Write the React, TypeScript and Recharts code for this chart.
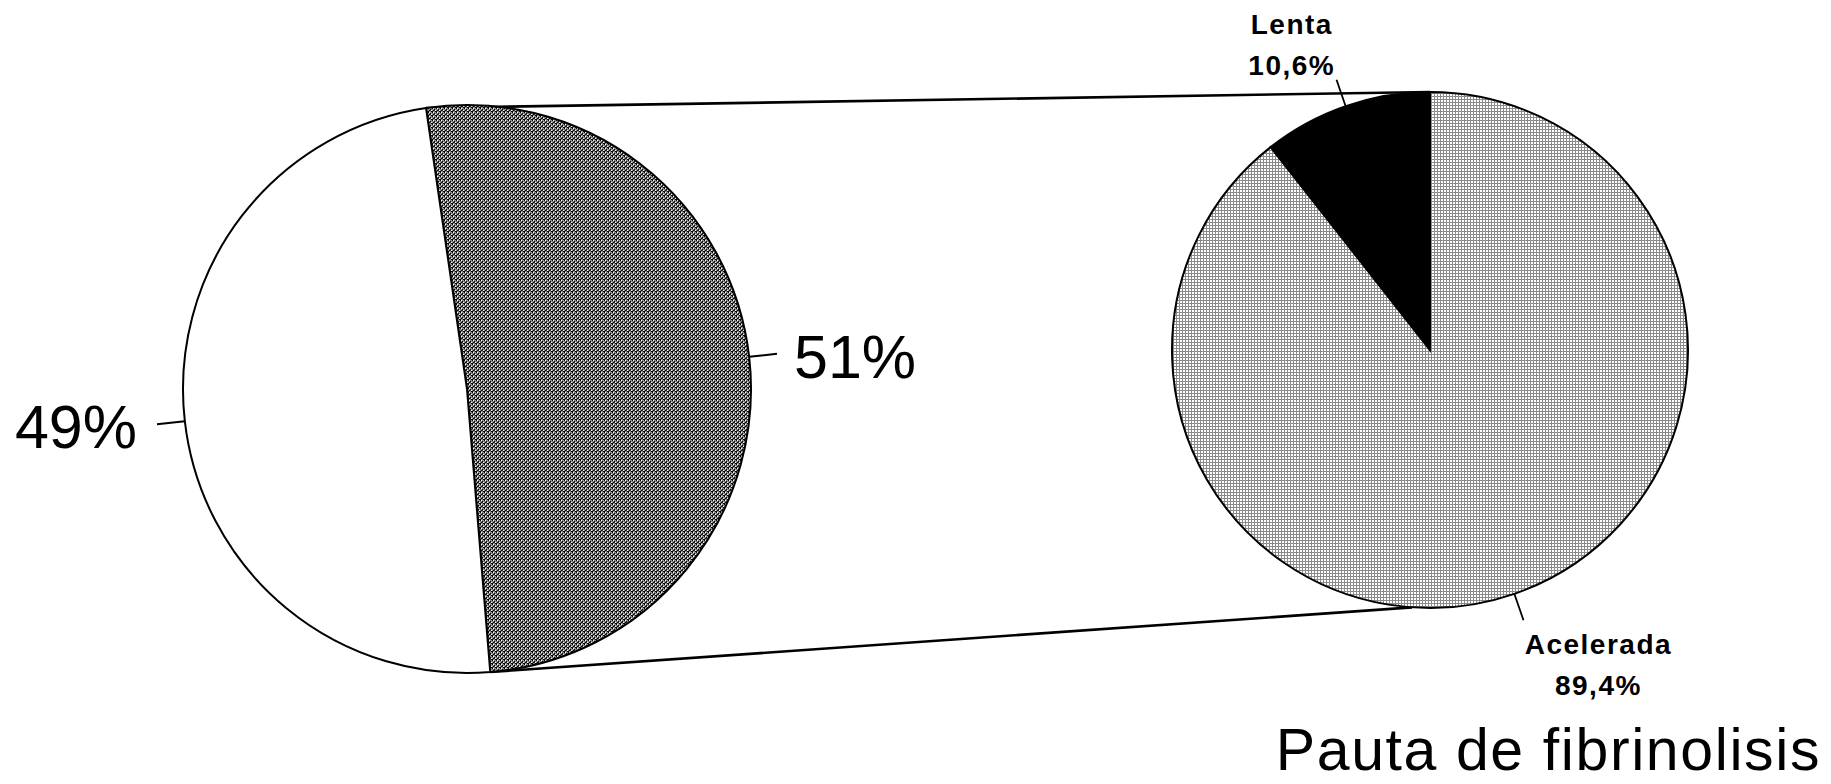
import React from 'react';
import { PieChart, Pie, Cell, Customized } from 'recharts';

// Overall split (left pie) and fibrinolysis pattern breakdown (right pie)
const groupNames = ['Grupo A', 'Grupo B'];
const groupShares = [51, 49];
const patternNames = ['Lenta', 'Acelerada'];
const patternShares = [10.6, 89.4];
const titleText = 'Pauta de fibrinolisis';

const groupData = groupNames.map((name, i) => ({ name, value: groupShares[i] }));
const patternData = patternNames.map((name, i) => ({ name, value: patternShares[i] }));

const W = 1831;
const H = 784;
const FONT = '"Liberation Sans", Arial, Helvetica, sans-serif';
const RAD = Math.PI / 180;

const LEFT = { cx: 467, cy: 389, r: 284, start: 98.3 };
const RIGHT = { cx: 1430, cy: 350, r: 258, start: 90, bottomLink: 266 };

const groupFills = ['url(#darkTexture)', '#ffffff'];
const patternFills = ['#000000', 'url(#lightGrid)'];

const polar = (cx: number, cy: number, r: number, a: number) => ({
  x: cx + r * Math.cos(a * RAD),
  y: cy - r * Math.sin(a * RAD),
});

const fmtPct = (v: number) => String(v).replace('.', ',') + '%';

const SMALL_SIZE = 28;
const SMALL_SPACING = 1.5;

let measureCtx: CanvasRenderingContext2D | null = null;
const measure = (s: string) => {
  if (!measureCtx) {
    const c = document.createElement('canvas');
    measureCtx = c.getContext('2d');
  }
  if (!measureCtx) return s.length * SMALL_SIZE * 0.6;
  measureCtx.font = `bold ${SMALL_SIZE}px ${FONT}`;
  return measureCtx.measureText(s).width + SMALL_SPACING * (s.length - 1);
};

const renderGroupLabel = (p: any) => {
  const { cx, cy, outerRadius, midAngle, value } = p;
  const a = polar(cx, cy, outerRadius, midAngle);
  const b = polar(cx, cy, outerRadius + 28, midAngle);
  const right = Math.cos(midAngle * RAD) >= 0;
  return (
    <g key={`gl-${p.index}`}>
      <line x1={a.x} y1={a.y} x2={b.x} y2={b.y} stroke="#000" strokeWidth={2} />
      <text
        x={b.x + (right ? 17 : -20)}
        y={b.y + 24}
        textAnchor={right ? 'start' : 'end'}
        fontSize={61}
        fontFamily={FONT}
        fill="#000"
      >
        {`${value}%`}
      </text>
    </g>
  );
};

const renderPatternLabel = (p: any) => {
  const { cx, cy, outerRadius, midAngle, name, value } = p;
  const a = polar(cx, cy, outerRadius, midAngle);
  const b = polar(cx, cy, outerRadius + 28, midAngle);
  const cos = Math.cos(midAngle * RAD);
  const sin = Math.sin(midAngle * RAD);
  const lines = [name, fmtPct(value)];
  const w = Math.max(...lines.map(measure));
  const x = b.x + (cos >= 0 ? w / 2 + 2 : -(w / 2 + 2));
  const lineGap = 41;
  const first = sin > 0 ? b.y - 5 - lineGap : b.y + 34;
  return (
    <g key={`pl-${p.index}`}>
      <line x1={a.x} y1={a.y} x2={b.x} y2={b.y} stroke="#000" strokeWidth={1.8} />
      {lines.map((t, i) => (
        <text
          key={i}
          x={x}
          y={first + i * lineGap}
          textAnchor="middle"
          fontSize={SMALL_SIZE}
          fontWeight="bold"
          letterSpacing={SMALL_SPACING}
          fontFamily={FONT}
          fill="#000"
        >
          {t}
        </text>
      ))}
    </g>
  );
};

const Decorations = () => {
  const total = groupShares.reduce((s, v) => s + v, 0);
  const leftA = polar(LEFT.cx, LEFT.cy, LEFT.r, LEFT.start);
  const leftB = polar(LEFT.cx, LEFT.cy, LEFT.r, LEFT.start - (360 * groupShares[0]) / total);
  const rightA = polar(RIGHT.cx, RIGHT.cy, RIGHT.r, RIGHT.start);
  const rightB = polar(RIGHT.cx, RIGHT.cy, RIGHT.r, RIGHT.bottomLink);
  return (
    <g>
      <defs>
        <pattern id="darkTexture" width={4} height={4} patternUnits="userSpaceOnUse">
          <rect width={4} height={4} fill="#8c8c8c" />
          <rect x={0} y={0} width={1} height={1} fill="#000" />
          <rect x={2} y={1} width={1} height={1} fill="#000" />
          <rect x={1} y={2} width={1} height={1} fill="#000" />
          <rect x={3} y={3} width={1} height={1} fill="#000" />
          <rect x={0} y={3} width={1} height={1} fill="#000" />
          <rect x={2} y={2} width={1} height={1} fill="#333" />
          <rect x={1} y={0} width={1} height={1} fill="#fff" />
          <rect x={3} y={2} width={1} height={1} fill="#fff" />
        </pattern>
        <pattern id="lightGrid" width={3} height={3} patternUnits="userSpaceOnUse">
          <rect width={3} height={3} fill="#ffffff" />
          <rect x={0} y={0} width={3} height={1} fill="#8a8a8a" />
          <rect x={0} y={0} width={1} height={3} fill="#8a8a8a" />
        </pattern>
      </defs>
      <line x1={leftA.x} y1={leftA.y} x2={rightA.x} y2={rightA.y} stroke="#000" strokeWidth={2.6} />
      <line x1={leftB.x} y1={leftB.y} x2={rightB.x} y2={rightB.y} stroke="#000" strokeWidth={2.6} />
      <text
        x={W - 10}
        y={770}
        textAnchor="end"
        fontSize={59}
        letterSpacing={1.6}
        fontFamily={FONT}
        fill="#000"
      >
        {titleText}
      </text>
    </g>
  );
};

export default function App() {
  return (
    <div style={{ position: 'absolute', left: 0, top: 0, width: W, height: H, background: '#fff' }}>
      <PieChart width={W} height={H} margin={{ top: 0, right: 0, bottom: 0, left: 0 }}>
        <Customized component={Decorations} />
        <Pie
          data={groupData}
          dataKey="value"
          nameKey="name"
          cx={LEFT.cx}
          cy={LEFT.cy}
          outerRadius={LEFT.r}
          startAngle={LEFT.start}
          endAngle={LEFT.start - 360}
          label={renderGroupLabel}
          labelLine={false}
          isAnimationActive={false}
        >
          {groupData.map((d, i) => (
            <Cell key={d.name} fill={groupFills[i]} stroke="#000" strokeWidth={2} />
          ))}
        </Pie>
        <Pie
          data={patternData}
          dataKey="value"
          nameKey="name"
          cx={RIGHT.cx}
          cy={RIGHT.cy}
          outerRadius={RIGHT.r}
          startAngle={RIGHT.start}
          endAngle={RIGHT.start + 360}
          label={renderPatternLabel}
          labelLine={false}
          isAnimationActive={false}
        >
          {patternData.map((d, i) => (
            <Cell key={d.name} fill={patternFills[i]} stroke="#000" strokeWidth={2} />
          ))}
        </Pie>
      </PieChart>
    </div>
  );
}
